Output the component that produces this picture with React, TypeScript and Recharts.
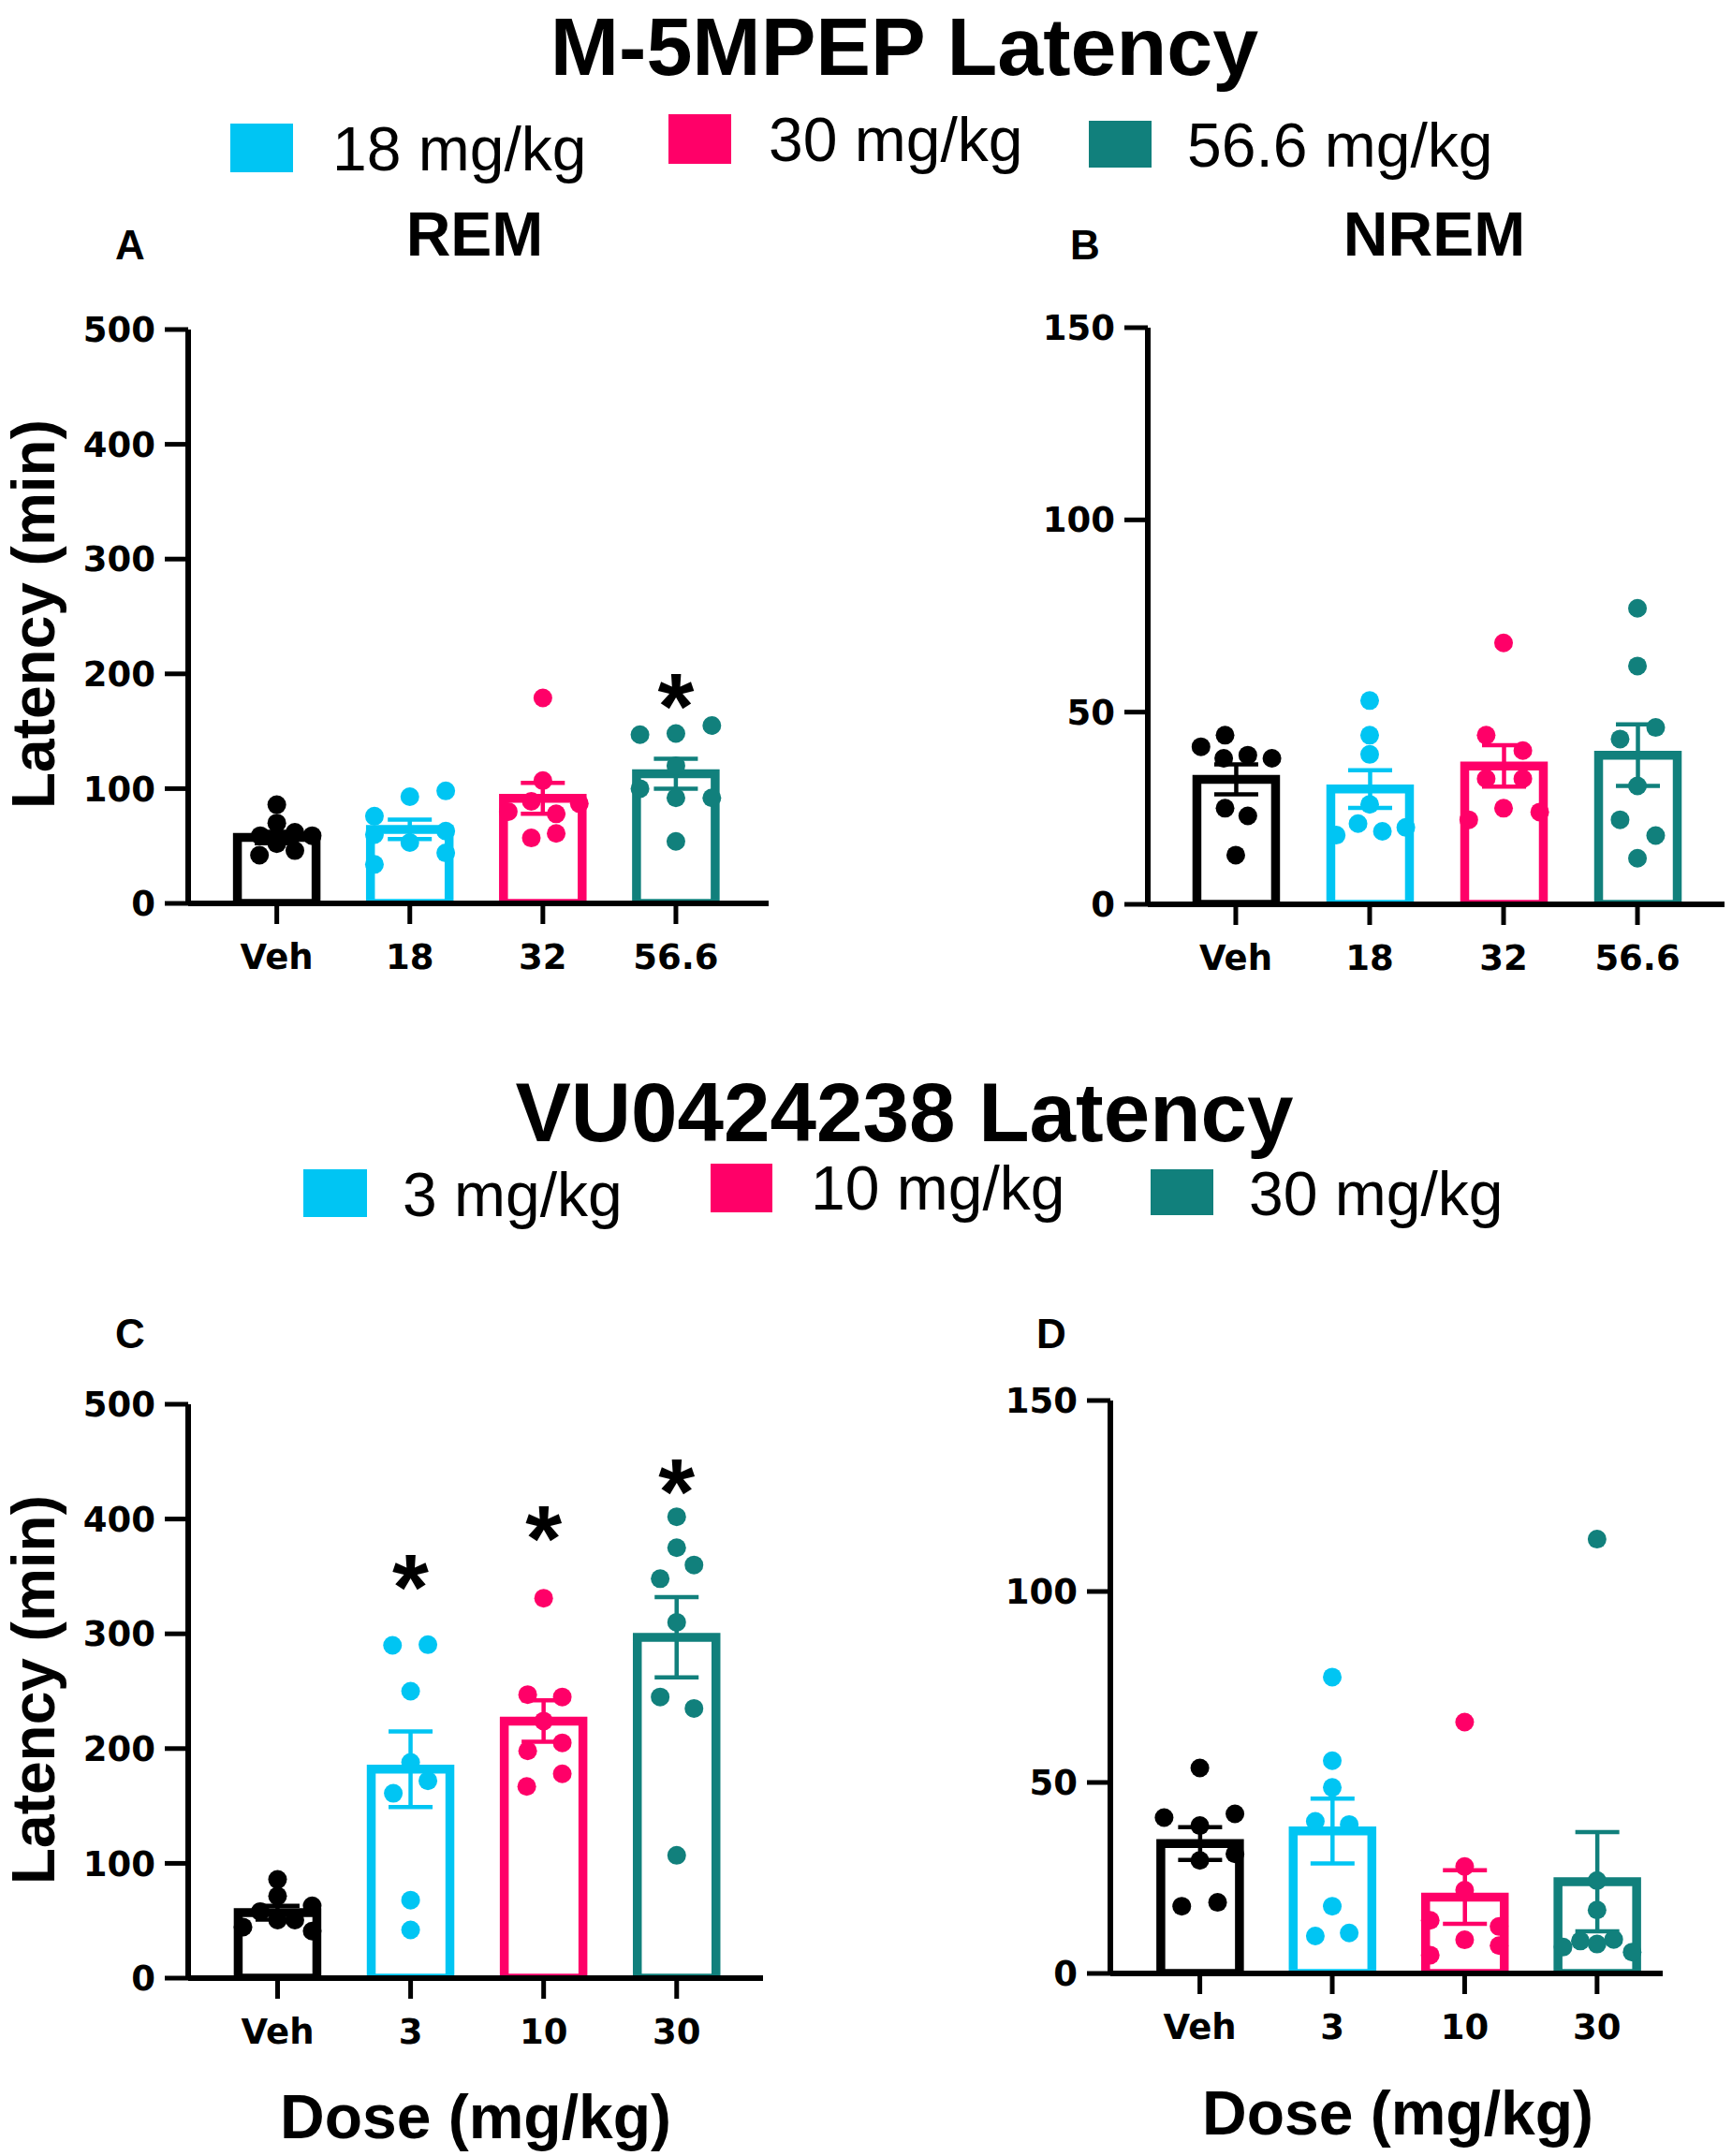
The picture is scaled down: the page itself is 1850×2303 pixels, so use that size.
import React from 'react';
import { ComposedChart, Bar, ErrorBar, Scatter, XAxis, YAxis } from 'recharts';

const COLORS = ['#000000', '#00C5F3', '#FF0068', '#11807C'];

// ---------- Panel A : M-5MPEP REM ----------
const remLabels = ['Veh', '18', '32', '56.6'];
const remMean = [57.5, 64.5, 91.5, 113];
const remSem = [5, 8.5, 13.5, 13];
const remPts: number[][][] = [
  [[0, 86], [0, 70], [-0.124, 59], [0.136, 62], [0.266, 59], [0, 52], [-0.13, 42], [0.136, 46]],
  [[0, 93], [0.27, 98], [-0.266, 76], [-0.266, 60], [0.27, 63], [0, 53], [0.27, 44], [-0.266, 34]],
  [[0, 179], [0, 107], [-0.087, 89], [-0.26, 80], [0.274, 87], [0.1, 78], [-0.087, 57], [0.1, 61]],
  [[-0.27, 147], [0, 148], [0.27, 155], [0, 120], [-0.27, 100], [0.27, 92], [0, 92], [0, 54]],
];
const remStars: number[][] = [[3, 190]];

// ---------- Panel B : M-5MPEP NREM ----------
const nremLabels = ['Veh', '18', '32', '56.6'];
const nremMean = [32.5, 30, 36, 38.8];
const nremSem = [3.9, 4.9, 5.4, 8];
const nremPts: number[][][] = [
  [[-0.08, 44], [-0.26, 41], [-0.09, 38], [0.09, 38.8], [0.27, 38], [-0.08, 25], [0.09, 23], [0, 12.8]],
  [[0, 53], [0, 44], [0, 39], [0, 26], [-0.087, 21], [0.095, 19], [-0.25, 18], [0.27, 20]],
  [[0, 68], [-0.13, 44], [0.144, 40], [-0.13, 32.7], [0.144, 32.7], [0, 25], [-0.26, 22], [0.27, 24]],
  [[0, 77], [0, 62], [0.136, 46], [-0.13, 43], [0, 30.8], [-0.13, 22], [0.136, 17.9], [0, 12]],
];

// ---------- Panel C : VU0424238 REM ----------
const vuRemLabels = ['Veh', '3', '10', '30'];
const vuRemMean = [57, 182, 224, 297];
const vuRemSem = [6, 33, 18, 35];
const vuRemPts: number[][][] = [
  [[0, 86], [0, 71.5], [-0.13, 58], [0.26, 63], [0, 50.6], [0.13, 50.6], [-0.26, 44.5], [0.26, 41]],
  [[-0.136, 290], [0.13, 290.5], [0, 250], [0, 188], [0.13, 172], [-0.13, 161], [0, 68], [0, 42]],
  [[0, 331], [-0.12, 247], [0.14, 245], [0, 224], [-0.12, 198], [0.14, 205], [0.14, 178], [-0.127, 167]],
  [[0, 402], [0, 375], [0.13, 360], [-0.124, 348], [0, 310], [-0.124, 245], [0.13, 235], [0, 107]],
];
const vuRemStars: number[][] = [[1, 359], [2, 401], [3, 442]];

// ---------- Panel D : VU0424238 NREM ----------
const vuNremLabels = ['Veh', '3', '10', '30'];
const vuNremMean = [34, 37.3, 20, 24];
const vuNremSem = [4.3, 8.5, 7, 13];
const vuNremPts: number[][][] = [
  [[0, 53.8], [-0.27, 40.8], [0.265, 41.8], [0, 38.7], [0.265, 31.3], [0, 29.6], [-0.137, 17.6], [0.134, 18.6]],
  [[0, 77.6], [0, 55.7], [0, 48.7], [-0.128, 39.8], [0.128, 39], [0, 17.6], [-0.128, 9.8], [0.128, 10.6]],
  [[0, 65.8], [0, 28], [0, 21.8], [-0.26, 13.9], [0.26, 12.3], [0, 8.8], [-0.26, 4.8], [0.26, 7.3]],
  [[0, 113.7], [0, 24.3], [0, 16.6], [-0.126, 8.5], [0.126, 8.9], [0, 7.7], [-0.257, 6.9], [0.265, 5.6]],
];

const remTicks = [0, 100, 200, 300, 400, 500];
const nremTicks = [0, 50, 100, 150];
const remLegend = ['18 mg/kg', '30 mg/kg', '56.6 mg/kg'];
const vuLegend = ['3 mg/kg', '10 mg/kg', '30 mg/kg'];

const ARIAL = "'Liberation Sans', Arial, sans-serif";
const tickStyle = { fill: '#000', fontSize: 37, fontFamily: "'DejaVu Sans', sans-serif", fontWeight: 'bold' };

type PanelProps = {
  box: { left: number; top: number; w: number; h: number };
  plot: { x0: number; x1: number; y0: number; y1: number };
  xDomain: [number, number];
  yMax: number;
  yTicks: number[];
  labels: string[];
  means: number[];
  sems: number[];
  pts: number[][][];
  stars?: number[][];
};

function Panel({ box, plot, xDomain, yMax, yTicks, labels, means, sems, pts, stars }: PanelProps) {
  const margin = { top: plot.y0 - box.top, right: box.left + box.w - plot.x1, bottom: 0, left: 0 };
  const yW = plot.x0 - box.left;
  const xH = box.top + box.h - plot.y1;
  const barData = means.map((m, i) => {
    const row: any = { x: i };
    row['m' + i] = m;
    row['e' + i] = sems[i];
    return row;
  });
  return (
    <div style={{ position: 'absolute', left: box.left, top: box.top, width: box.w, height: box.h }}>
      <ComposedChart width={box.w} height={box.h} data={barData} margin={margin}>
        <XAxis
          xAxisId="bars"
          type="number"
          dataKey="x"
          domain={xDomain}
          allowDataOverflow
          ticks={[0, 1, 2, 3]}
          interval={0}
          tickFormatter={(v: number) => labels[Math.round(v)]}
          height={xH}
          tickSize={22}
          tickMargin={22}
          axisLine={{ stroke: '#000', strokeWidth: 6 }}
          tickLine={{ stroke: '#000', strokeWidth: 5 }}
          tick={tickStyle}
        />
        <XAxis xAxisId="pts" type="number" dataKey="x" domain={xDomain} allowDataOverflow hide />
        <YAxis
          type="number"
          domain={[0, yMax]}
          allowDataOverflow
          ticks={yTicks}
          interval={0}
          width={yW}
          tickSize={25}
          tickMargin={10}
          axisLine={{ stroke: '#000', strokeWidth: 6 }}
          tickLine={{ stroke: '#000', strokeWidth: 5 }}
          tick={tickStyle}
        />
        {means.map((_, i) => (
          <Bar
            key={'b' + i}
            xAxisId="bars"
            dataKey={'m' + i}
            stackId="s"
            fill="#fff"
            stroke={COLORS[i]}
            strokeWidth={9.5}
            barSize={84}
            isAnimationActive={false}
          >
            <ErrorBar dataKey={'e' + i} width={23.5} stroke={COLORS[i]} strokeWidth={4.5} direction="y" />
          </Bar>
        ))}
        {pts.map((g, i) => (
          <Scatter
            key={'s' + i}
            xAxisId="pts"
            data={g.map(([dx, v]) => ({ x: i + dx, y: v }))}
            dataKey="y"
            fill={COLORS[i]}
            isAnimationActive={false}
            shape={(p: any) => <circle cx={p.cx} cy={p.cy} r={10} fill={COLORS[i]} />}
          />
        ))}
        {stars && (
          <Scatter
            xAxisId="pts"
            data={stars.map(([g, v]) => ({ x: g, y: v }))}
            dataKey="y"
            fill="#000"
            isAnimationActive={false}
            shape={(p: any) => (
              <text x={p.cx} y={p.cy + 57} textAnchor="middle" fontSize={100} fontWeight="bold" fontFamily={ARIAL} fill="#000">
                *
              </text>
            )}
          />
        )}
      </ComposedChart>
    </div>
  );
}

function T({ x, y, size, weight = 'bold', anchor = 'middle', rotate, children }: any) {
  return (
    <text
      x={x}
      y={y}
      fontSize={size}
      fontWeight={weight}
      textAnchor={anchor}
      fontFamily={ARIAL}
      fill="#000"
      transform={rotate ? `rotate(${rotate} ${x} ${y})` : undefined}
    >
      {children}
    </text>
  );
}

export default function App() {
  return (
    <div style={{ position: 'absolute', left: 0, top: 0, width: 1850, height: 2303, background: '#fff', overflow: 'hidden' }}>
      <svg width={1850} height={2303} style={{ position: 'absolute', left: 0, top: 0, pointerEvents: 'none' }}>
        <T x={966} y={80} size={88}>M-5MPEP Latency</T>
        <rect x={246} y={132} width={67} height={52} fill={COLORS[1]} />
        <T x={355} y={182} size={66} weight="normal" anchor="start">{remLegend[0]}</T>
        <rect x={714} y={122} width={67} height={53} fill={COLORS[2]} />
        <T x={821} y={172} size={66} weight="normal" anchor="start">{remLegend[1]}</T>
        <rect x={1163} y={129} width={67} height={50} fill={COLORS[3]} />
        <T x={1268} y={178} size={66} weight="normal" anchor="start">{remLegend[2]}</T>

        <T x={139} y={277} size={44}>A</T>
        <T x={507} y={273} size={66}>REM</T>
        <T x={1159} y={277} size={44}>B</T>
        <T x={1532} y={273} size={66}>NREM</T>
        <T x={58} y={656} size={64} rotate={-90}>Latency (min)</T>

        <T x={966} y={1219} size={89}>VU0424238 Latency</T>
        <rect x={324} y={1249} width={68} height={51} fill={COLORS[1]} />
        <T x={430} y={1299} size={66} weight="normal" anchor="start">{vuLegend[0]}</T>
        <rect x={759} y={1243} width={66} height={52} fill={COLORS[2]} />
        <T x={866} y={1292} size={66} weight="normal" anchor="start">{vuLegend[1]}</T>
        <rect x={1229} y={1249} width={67} height={49} fill={COLORS[3]} />
        <T x={1334} y={1298} size={66} weight="normal" anchor="start">{vuLegend[2]}</T>

        <T x={139} y={1440} size={44}>C</T>
        <T x={1123} y={1440} size={44}>D</T>
        <T x={58} y={1805} size={64} rotate={-90}>Latency (min)</T>
        <T x={508} y={2284} size={66}>Dose (mg/kg)</T>
        <T x={1493} y={2280} size={66}>Dose (mg/kg)</T>
      </svg>

      <Panel
        box={{ left: 0, top: 300, w: 860, h: 790 }}
        plot={{ x0: 201, x1: 821, y0: 352, y1: 965 }}
        xDomain={[-0.666, 3.697]}
        yMax={500}
        yTicks={remTicks}
        labels={remLabels}
        means={remMean}
        sems={remSem}
        pts={remPts}
        stars={remStars}
      />
      <Panel
        box={{ left: 1000, top: 300, w: 850, h: 790 }}
        plot={{ x0: 1226, x1: 1842, y0: 350, y1: 966 }}
        xDomain={[-0.657, 3.65]}
        yMax={150}
        yTicks={nremTicks}
        labels={nremLabels}
        means={nremMean}
        sems={nremSem}
        pts={nremPts}
      />
      <Panel
        box={{ left: 0, top: 1450, w: 860, h: 760 }}
        plot={{ x0: 201, x1: 815, y0: 1500, y1: 2113 }}
        xDomain={[-0.672, 3.649]}
        yMax={500}
        yTicks={remTicks}
        labels={vuRemLabels}
        means={vuRemMean}
        sems={vuRemSem}
        pts={vuRemPts}
        stars={vuRemStars}
      />
      <Panel
        box={{ left: 960, top: 1450, w: 890, h: 760 }}
        plot={{ x0: 1186, x1: 1776, y0: 1496, y1: 2108 }}
        xDomain={[-0.676, 3.496]}
        yMax={150}
        yTicks={nremTicks}
        labels={vuNremLabels}
        means={vuNremMean}
        sems={vuNremSem}
        pts={vuNremPts}
      />
    </div>
  );
}
